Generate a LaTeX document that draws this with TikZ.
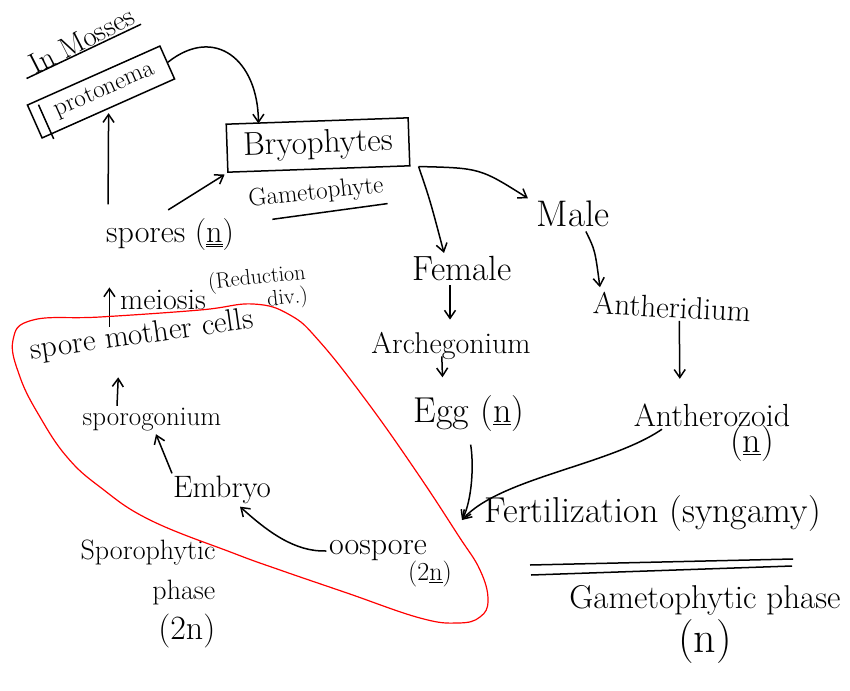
\documentclass[tikz,border=0pt]{standalone}
\usepackage{fontspec}
\usepackage{tikz}
\usetikzlibrary{arrows.meta}

\begin{document}
\begin{tikzpicture}[x=1pt,y=-1pt,line width=1.5pt,
  txt/.style={font=\fontsize{#1}{#1}\selectfont, inner sep=2pt}, txt/.default=31,
  arr/.style={-{Straight Barb[length=8pt,width=11pt]}, line width=1.5pt}]
  \useasboundingbox (0,0) rectangle (850,690);
  \node[txt=29, rotate=27] (mosses) at (82,40) {In Mosses}; \draw ([xshift=-8pt]mosses.south west) -- (mosses.south east);
  \node[txt=25, rotate=24, draw, minimum width=145pt, minimum height=36pt] (proto) at (101,92) {\hspace{8pt}protonema};
  \draw ([xshift=12pt]proto.north west) -- ([xshift=12pt]proto.south west);
  \node[txt=33, draw, rotate=2, minimum width=182pt, minimum height=48pt] (bryo) at (318,145) {Bryophytes};
  \node[txt=25, rotate=6] (gameto) at (316,193) {Gametophyte}; \draw ([xshift=25pt,yshift=-5pt]gameto.south west) -- ([yshift=-4pt]gameto.south east);
  \node[txt=32] (spores) at (170,235) {spores (\underline{\underline{n}})};
  \node[txt=37] (male) at (573,214) {Male};
  \node[txt=35] (female) at (462,268) {Female};
  \node[txt, rotate=-3] (antherid) at (672,307) {Antheridium};
  \node[txt=30] (archeg) at (451,346) {Archegonium};
  \node[txt=36] (egg) at (469,414) {Egg (\underline{n})};
  \node[txt=32] (antheroz) at (712,415) {Antherozoid}; \node[txt=36] (antherozn) at (752,444) {(\underline{n})};
  \node[txt=36, anchor=west] (fert) at (482,514) {Fertilization (syngamy)};
  \node[font=\fontsize{33}{44}\selectfont, align=center] (gametophase) at (705,624) {Gametophytic phase\\{\fontsize{44}{44}\selectfont(n)}};
  \node[font=\fontsize{28}{40}\selectfont, align=right] (sporophase) at (148,594) {Sporophytic\\phase\\{\fontsize{34}{40}\selectfont(2n)}};
  \node[txt=30] (meiosis) at (163,300) {meiosis};
  \node[font=\fontsize{22}{15}\selectfont, align=right, rotate=6, inner sep=1pt] (reddiv) at (258,290) {(Reduction\\div.)};
  \node[txt=31, rotate=8] (smc) at (142,336) {spore mother cells};
  \node[txt=27] (sporog) at (152,420) {sporogonium};
  \node[txt] (embryo) at (222,490) {Embryo};
  \node[txt=32] (oospore) at (378,551) {oospore}; \node[txt=26] (oosporen) at (430,574) {(2\underline{n})};
  \coordinate (fertin) at ([xshift=-20pt,yshift=-6pt]fert.west);

  \draw[arr] (proto.east) .. controls (215,25) and (258,60) .. ([xshift=33pt]bryo.north west);
  \draw[arr, shorten <=12pt, shorten >=4pt] ([xshift=-62pt]spores.north) -- (proto.south);
  \draw[arr, shorten <=12pt, shorten >=3pt] ([xshift=-12pt]spores.north) -- (bryo.south west);
  \draw[arr] ([xshift=8pt]bryo.south east) .. controls (430,200) .. ([xshift=-18pt]female.north);
  \draw[arr] ([xshift=8pt]bryo.south east) .. controls (480,168) .. ([xshift=-6pt]male.north west);
  \draw[arr, shorten <=2pt, shorten >=6pt] ([xshift=12pt]male.south) .. controls (595,250) .. ([xshift=-72pt]antherid.north);
  \draw[arr, shorten >=22pt] ([xshift=8pt]antherid.south) -- ([xshift=-32pt]antheroz.north);
  \draw[arr, shorten <=2pt, shorten >=10pt] ([xshift=-12pt]female.south) -- ([xshift=-1pt]archeg.north);
  \draw[arr, shorten <=-6pt, shorten >=16pt] ([xshift=-9pt]archeg.south) -- ([xshift=-26pt]egg.north);
  \draw[arr, shorten <=10pt] (egg.south) .. controls (474,465) and (472,500) .. (fertin);
  \draw[arr] ([xshift=-50pt]antheroz.south) .. controls (610,465) and (500,478) .. (fertin);
  \draw[arr] (oospore.west) .. controls (295,552) and (268,532) .. ([xshift=18pt]embryo.south);
  \draw[arr] ([xshift=-50pt]embryo.north) -- ([xshift=4pt]sporog.south);
  \draw[arr, shorten >=25pt] ([xshift=-35pt]sporog.north) -- ([xshift=-25pt]smc.south);
  \draw[arr, shorten <=-14pt] ([xshift=-8pt]meiosis.south west) -- ([xshift=-8pt]meiosis.north west);
  \draw (530,565) -- (793,559); \draw (531,575) -- (792,566);
  \draw[red, line width=1.2pt] plot[smooth cycle, tension=0.7] coordinates {(33,320) (100,317) (200,310) (253,304) (290,315) (320,342) (368,403) (418,474) (458,535) (480,570) (488,600) (480,617) (458,623) (420,618) (347,593) (280,570) (233,553) (150,520) (100,487) (67,457) (40,417) (20,377) (13,340)};
\end{tikzpicture}
\end{document}
